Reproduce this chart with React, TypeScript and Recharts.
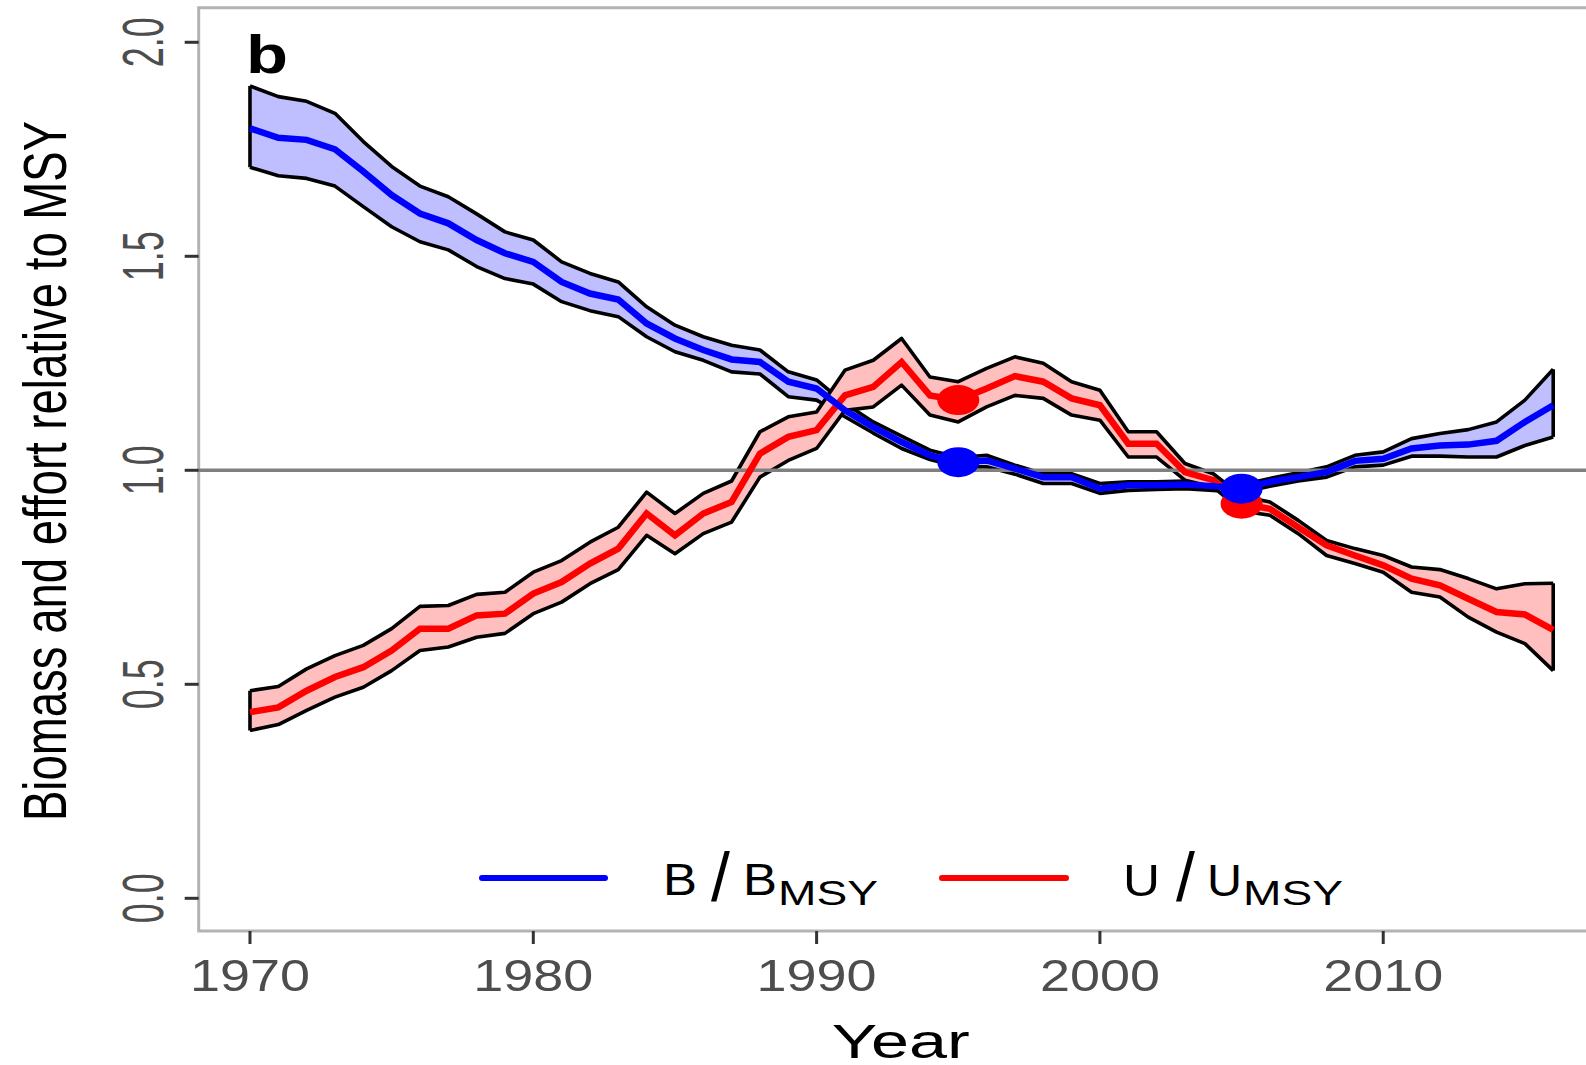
import React from 'react';
import {
  ComposedChart,
  Area,
  Line,
  XAxis,
  YAxis,
  ReferenceLine,
  ReferenceArea,
  Scatter,
  Customized,
} from 'recharts';

// ---------- data ----------
const years = [
  1970, 1971, 1972, 1973, 1974, 1975, 1976, 1977, 1978, 1979,
  1980, 1981, 1982, 1983, 1984, 1985, 1986, 1987, 1988, 1989,
  1990, 1991, 1992, 1993, 1994, 1995, 1996, 1997, 1998, 1999,
  2000, 2001, 2002, 2003, 2004, 2005, 2006, 2007, 2008, 2009,
  2010, 2011, 2012, 2013, 2014, 2015, 2016,
];

// B / B_MSY
const bMid = [
  1.799, 1.777, 1.772, 1.750, 1.698, 1.643, 1.600, 1.577, 1.538, 1.507,
  1.487, 1.440, 1.413, 1.399, 1.343, 1.308, 1.281, 1.259, 1.253, 1.207,
  1.191, 1.140, 1.101, 1.066, 1.035, 1.019, 1.023, 1.004, 0.984, 0.984,
  0.957, 0.965, 0.965, 0.967, 0.963, 0.957, 0.973, 0.984, 0.996, 1.022,
  1.027, 1.051, 1.058, 1.060, 1.069, 1.113, 1.152,
];
const bHi = [
  1.898, 1.873, 1.862, 1.834, 1.768, 1.710, 1.664, 1.639, 1.599, 1.557,
  1.538, 1.487, 1.460, 1.440, 1.382, 1.339, 1.312, 1.292, 1.281, 1.230,
  1.211, 1.156, 1.113, 1.080, 1.047, 1.030, 1.035, 1.012, 0.992, 0.992,
  0.969, 0.973, 0.973, 0.975, 0.971, 0.966, 0.981, 0.994, 1.008, 1.035,
  1.043, 1.074, 1.086, 1.095, 1.113, 1.164, 1.236,
];
const bLo = [
  1.708, 1.688, 1.682, 1.664, 1.616, 1.569, 1.534, 1.515, 1.476, 1.448,
  1.435, 1.394, 1.373, 1.359, 1.312, 1.277, 1.257, 1.230, 1.225, 1.172,
  1.164, 1.125, 1.087, 1.051, 1.025, 1.008, 1.008, 0.991, 0.969, 0.969,
  0.946, 0.953, 0.955, 0.957, 0.953, 0.948, 0.963, 0.975, 0.984, 1.008,
  1.012, 1.033, 1.033, 1.031, 1.031, 1.058, 1.078,
];

// U / U_MSY
const uMid = [
  0.435, 0.446, 0.485, 0.517, 0.540, 0.579, 0.630, 0.630, 0.661, 0.665,
  0.712, 0.739, 0.782, 0.817, 0.899, 0.848, 0.899, 0.926, 1.039, 1.078,
  1.094, 1.175, 1.195, 1.253, 1.175, 1.164, 1.191, 1.220, 1.207, 1.168,
  1.152, 1.062, 1.062, 0.996, 0.977, 0.922, 0.910, 0.867, 0.825, 0.801,
  0.778, 0.747, 0.731, 0.700, 0.669, 0.663, 0.627,
];
const uHi = [
  0.485, 0.495, 0.536, 0.567, 0.591, 0.630, 0.682, 0.684, 0.710, 0.715,
  0.762, 0.789, 0.832, 0.867, 0.949, 0.899, 0.946, 0.975, 1.090, 1.125,
  1.136, 1.234, 1.257, 1.308, 1.218, 1.207, 1.238, 1.265, 1.250, 1.207,
  1.187, 1.090, 1.090, 1.016, 0.992, 0.940, 0.926, 0.883, 0.836, 0.817,
  0.801, 0.774, 0.768, 0.747, 0.723, 0.735, 0.736,
];
const uLo = [
  0.392, 0.406, 0.439, 0.470, 0.493, 0.532, 0.579, 0.587, 0.610, 0.619,
  0.665, 0.692, 0.735, 0.768, 0.848, 0.805, 0.852, 0.879, 0.984, 1.023,
  1.051, 1.140, 1.148, 1.199, 1.129, 1.113, 1.148, 1.175, 1.168, 1.129,
  1.117, 1.031, 1.031, 0.977, 0.961, 0.905, 0.895, 0.852, 0.801, 0.782,
  0.762, 0.715, 0.704, 0.657, 0.622, 0.595, 0.532,
];

const xTicks = [1970, 1980, 1990, 2000, 2010];
const yTicks = [0, 0.5, 1.0, 1.5, 2.0];
const markerYears = [1995, 2005];
const refLevel = 1.0;

// ---------- layout / style ----------
const X_DOMAIN: [number, number] = [1968.19, 2017.81];
const Y_DOMAIN: [number, number] = [-0.0764, 2.0808];
const FONT = "'Liberation Sans', Arial, Helvetica, sans-serif";
const BLUE = '#0000FF';
const RED = '#FF0000';
const BLUE_FILL = '#BFBFFF';
const RED_FILL = '#FFBFBF';
const TICK_TEXT = '#4D4D4D';
const OUTLINE_W = 3.6;

const data = years.map((year, i) => ({
  year,
  bMid: bMid[i],
  bBand: [bLo[i], bHi[i]],
  uMid: uMid[i],
  uBand: [uLo[i], uHi[i]],
}));

const idxOf = (y: number) => years.indexOf(y);
const bMarkers = markerYears.map((y) => ({ year: y, v: bMid[idxOf(y)] }));
const uMarkers = markerYears.map((y) => ({ year: y, v: uMid[idxOf(y)] }));

const first = 0;
const last = years.length - 1;

const XTick = (props: any) => {
  const { x, y, payload } = props;
  return (
    <text
      x={x}
      y={y + 47}
      textAnchor="middle"
      fontSize={44}
      fill={TICK_TEXT}
      fontFamily={FONT}
      textLength={120}
      lengthAdjust="spacingAndGlyphs"
    >
      {String(payload.value)}
    </text>
  );
};

const YTick = (props: any) => {
  const { x, y, payload } = props;
  return (
    <text
      transform={`translate(${x - 21.7},${y}) rotate(-90)`}
      x={0}
      y={0}
      textAnchor="middle"
      fontSize={58}
      fill={TICK_TEXT}
      fontFamily={FONT}
      textLength={50}
      lengthAdjust="spacingAndGlyphs"
    >
      {Number(payload.value).toFixed(1)}
    </text>
  );
};

const Ellipse = (color: string) => (props: any) => {
  const { cx, cy } = props;
  if (cx == null || cy == null) return <g />;
  return <ellipse cx={cx} cy={cy} rx={21} ry={15} fill={color} />;
};

const Overlay = () => (
  <g fontFamily={FONT}>
    {/* panel label */}
    <text x={246} y={73} fontSize={53} fontWeight="bold" fill="#000" textLength={42} lengthAdjust="spacingAndGlyphs">
      b
    </text>
    {/* axis titles */}
    <text x={900.8} y={1058} textAnchor="middle" fontSize={49} fill="#000" textLength={138} lengthAdjust="spacingAndGlyphs">
      Year
    </text>
    <text
      transform="translate(66,471) rotate(-90)"
      x={0}
      y={0}
      textAnchor="middle"
      fontSize={61}
      fill="#000"
      textLength={700}
      lengthAdjust="spacingAndGlyphs"
    >
      Biomass and effort relative to MSY
    </text>
    {/* legend */}
    <line x1={482} y1={878} x2={605} y2={878} stroke={BLUE} strokeWidth={6} strokeLinecap="round" />
    <text x={663} y={895} fontSize={45} fill="#000" textLength={34} lengthAdjust="spacingAndGlyphs">B</text>
    <text x={711} y={901} fontSize={68} fill="#000">/</text>
    <text x={743} y={895} fontSize={45} fill="#000" textLength={34} lengthAdjust="spacingAndGlyphs">B</text>
    <text x={778} y={905} fontSize={35} fill="#000" textLength={100} lengthAdjust="spacingAndGlyphs">MSY</text>

    <line x1={942} y1={878} x2={1066} y2={878} stroke={RED} strokeWidth={6} strokeLinecap="round" />
    <text x={1123} y={896} fontSize={45} fill="#000" textLength={37} lengthAdjust="spacingAndGlyphs">U</text>
    <text x={1176} y={901} fontSize={68} fill="#000">/</text>
    <text x={1207} y={896} fontSize={45} fill="#000" textLength={35} lengthAdjust="spacingAndGlyphs">U</text>
    <text x={1243} y={905} fontSize={35} fill="#000" textLength={100} lengthAdjust="spacingAndGlyphs">MSY</text>
  </g>
);

export default function App() {
  return (
    <div
      style={{
        position: 'absolute',
        left: 0,
        top: 0,
        width: 1586,
        height: 1065,
        overflow: 'hidden',
        background: '#fff',
      }}
    >
      <ComposedChart
        width={1610}
        height={1065}
        data={data}
        margin={{ top: 7.7, right: 5.5, bottom: 0, left: 0 }}
      >
        <XAxis
          dataKey="year"
          type="number"
          domain={X_DOMAIN}
          allowDataOverflow
          ticks={xTicks}
          height={134}
          axisLine={false}
          tickLine={{ stroke: '#333333', strokeWidth: 3 }}
          tickSize={13}
          tickMargin={0}
          tick={<XTick />}
          interval={0}
        />
        <YAxis
          type="number"
          domain={Y_DOMAIN}
          allowDataOverflow
          ticks={yTicks}
          width={198.7}
          axisLine={false}
          tickLine={{ stroke: '#333333', strokeWidth: 3 }}
          tickSize={14}
          tickMargin={0}
          tick={<YTick />}
          interval={0}
        />
        <ReferenceArea
          x1={X_DOMAIN[0]}
          x2={X_DOMAIN[1]}
          y1={Y_DOMAIN[0]}
          y2={Y_DOMAIN[1]}
          fill="none"
          fillOpacity={0}
          stroke="#B3B3B3"
          strokeWidth={3}
          ifOverflow="visible"
        />
        <Area
          dataKey="bBand"
          type="linear"
          fill={BLUE_FILL}
          fillOpacity={1}
          stroke="#000"
          strokeWidth={OUTLINE_W}
          strokeLinejoin="round"
          dot={false}
          activeDot={false}
          isAnimationActive={false}
        />
        <Area
          dataKey="uBand"
          type="linear"
          fill={RED_FILL}
          fillOpacity={1}
          stroke="#000"
          strokeWidth={OUTLINE_W}
          strokeLinejoin="round"
          dot={false}
          activeDot={false}
          isAnimationActive={false}
        />
        <ReferenceLine
          segment={[{ x: years[first], y: bLo[first] }, { x: years[first], y: bHi[first] }]}
          stroke="#000"
          strokeWidth={OUTLINE_W}
          ifOverflow="visible"
        />
        <ReferenceLine
          segment={[{ x: years[last], y: bLo[last] }, { x: years[last], y: bHi[last] }]}
          stroke="#000"
          strokeWidth={OUTLINE_W}
          ifOverflow="visible"
        />
        <ReferenceLine
          segment={[{ x: years[first], y: uLo[first] }, { x: years[first], y: uHi[first] }]}
          stroke="#000"
          strokeWidth={OUTLINE_W}
          ifOverflow="visible"
        />
        <ReferenceLine
          segment={[{ x: years[last], y: uLo[last] }, { x: years[last], y: uHi[last] }]}
          stroke="#000"
          strokeWidth={OUTLINE_W}
          ifOverflow="visible"
        />
        <ReferenceLine y={refLevel} stroke="#808080" strokeWidth={3.5} />
        <Line
          dataKey="uMid"
          type="linear"
          stroke={RED}
          strokeWidth={6.5}
          dot={false}
          activeDot={false}
          isAnimationActive={false}
        />
        <Line
          dataKey="bMid"
          type="linear"
          stroke={BLUE}
          strokeWidth={6.5}
          dot={false}
          activeDot={false}
          isAnimationActive={false}
        />
        <Scatter data={uMarkers} dataKey="v" shape={Ellipse(RED)} isAnimationActive={false} />
        <Scatter data={bMarkers} dataKey="v" shape={Ellipse(BLUE)} isAnimationActive={false} />
        <Customized component={<Overlay />} />
      </ComposedChart>
    </div>
  );
}
